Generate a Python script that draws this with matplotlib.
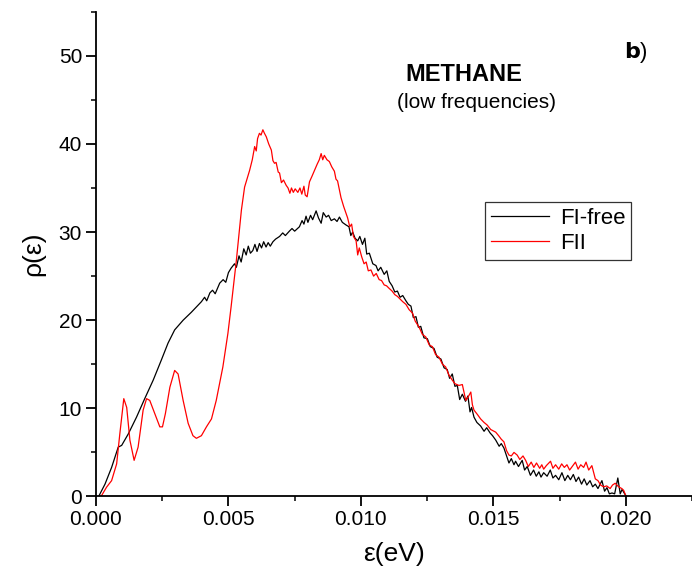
import matplotlib
matplotlib.use("Agg")
import matplotlib.pyplot as plt

plt.rcParams['font.family'] = ['Liberation Sans', 'DejaVu Sans']

# FI-free (black)
free_e = [0.0001, 0.00034, 0.00059, 0.00084, 0.00097, 0.00122, 0.00153, 0.00184, 0.00216,
          0.00247, 0.00272, 0.00297, 0.00329, 0.0036, 0.00398, 0.0041, 0.00418, 0.0043, 0.0044,
          0.0045, 0.00467, 0.0048, 0.0049, 0.005, 0.0051, 0.00523, 0.0053, 0.0054, 0.00548,
          0.00558, 0.00567, 0.00575, 0.00583, 0.00592, 0.006, 0.00608, 0.00617, 0.00625, 0.00633,
          0.00642, 0.0065, 0.00658, 0.00668, 0.00678, 0.00693, 0.00705, 0.00715, 0.0073, 0.0074,
          0.0075, 0.00768, 0.00778, 0.00785, 0.00793, 0.008, 0.0081, 0.00818, 0.00831, 0.0084,
          0.0085, 0.00858, 0.00869, 0.00878, 0.00888, 0.009, 0.0091, 0.00919, 0.0093, 0.00944,
          0.00955, 0.00962, 0.00969, 0.00978, 0.00988, 0.00996, 0.01006, 0.01015, 0.01022,
          0.01032, 0.01045, 0.01057, 0.01065, 0.01075, 0.01088, 0.01098, 0.01107, 0.01118,
          0.01128, 0.01138, 0.01148, 0.01158, 0.0117, 0.01179, 0.01189, 0.01198, 0.01208,
          0.01217, 0.01226, 0.01238, 0.01251, 0.01262, 0.01276, 0.01288, 0.01302, 0.01314,
          0.01326, 0.01335, 0.01345, 0.01355, 0.01364, 0.01373, 0.01383, 0.01395, 0.01404,
          0.01412, 0.01418, 0.01427, 0.01438, 0.01452, 0.01465, 0.01475, 0.01488, 0.01497,
          0.01509, 0.01522, 0.0153, 0.0154, 0.01548, 0.01559, 0.01568, 0.01578, 0.01584,
          0.01595, 0.01609, 0.01618, 0.01628, 0.0164, 0.01652, 0.01662, 0.01672, 0.0168,
          0.0169, 0.01703, 0.01715, 0.01725, 0.01735, 0.01747, 0.01759, 0.0177, 0.01781,
          0.01791, 0.01802, 0.01812, 0.01822, 0.01833, 0.01843, 0.01853, 0.01865, 0.01875,
          0.01885, 0.01895, 0.0191, 0.0192, 0.01929, 0.01938, 0.01948, 0.01958, 0.0197,
          0.01979, 0.01986, 0.01992, 0.02]
free_rho = [0.0, 1.4, 3.3, 5.6, 5.8, 7.1, 9.0, 11.1, 13.2,
            15.5, 17.4, 18.9, 20.0, 20.9, 22.1, 22.6, 22.2, 23.1, 23.4,
            23.0, 24.2, 24.6, 24.3, 25.4, 25.9, 26.4, 26.0, 27.3, 26.6,
            28.1, 27.4, 28.4, 27.6, 27.9, 28.6, 27.8, 28.7, 28.2, 28.9,
            28.3, 28.8, 28.4, 28.9, 29.2, 29.5, 29.9, 29.6, 30.1, 30.4,
            30.1, 30.6, 31.3, 30.9, 31.8, 31.1, 31.9, 31.4, 32.4, 31.6,
            31.0, 32.2, 31.7, 31.9, 31.3, 31.5, 31.2, 31.7, 31.1, 30.8,
            30.6, 29.6, 30.0, 29.3, 29.0, 29.5, 28.6, 29.3, 27.5,
            27.6, 26.4, 26.2, 25.6, 26.0, 25.2, 25.6, 24.4, 23.9,
            23.2, 23.3, 22.6, 22.8, 22.2, 21.8, 21.6, 20.3, 20.4,
            19.2, 19.3, 18.0, 17.9, 17.0, 16.8, 15.8, 15.6, 14.6,
            14.4, 13.4, 13.9, 12.5, 12.6, 11.0, 11.6, 10.8, 11.4,
            9.6, 10.1, 9.0, 8.4, 8.0, 7.4, 7.8, 7.2, 6.9,
            6.4, 5.7, 6.0, 5.5, 4.8, 3.8, 4.3, 3.6, 4.0,
            3.4, 4.1, 3.0, 3.4, 2.4, 3.0, 2.3, 2.8, 2.2,
            2.7, 2.3, 3.0, 2.1, 2.4, 1.9, 2.7, 1.8, 2.4,
            1.9, 2.5, 1.7, 2.2, 1.4, 2.0, 1.3, 1.8, 1.1,
            1.4, 0.9, 1.8, 0.6, 1.0, 0.3, 0.4, 0.3, 2.1,
            0.3, 0.8, 0.5, 0.1]

# FII (red)
fii_e = [0.0001, 0.00021, 0.0004, 0.00059, 0.00078, 0.0009, 0.00105, 0.00116, 0.00128,
         0.00144, 0.00159, 0.00178, 0.00191, 0.00203, 0.00222, 0.00241, 0.00251, 0.00262,
         0.00279, 0.00297, 0.0031, 0.00329, 0.00348, 0.00366, 0.00379, 0.00398, 0.00417,
         0.00436, 0.00454, 0.00479, 0.00498, 0.0051, 0.0053, 0.00549, 0.00561, 0.0058, 0.0059,
         0.00599, 0.00605, 0.0061, 0.00617, 0.00623, 0.0063, 0.00636, 0.00643, 0.00652,
         0.00662, 0.00668, 0.00674, 0.0068, 0.00688, 0.00693, 0.007, 0.00708, 0.00718,
         0.00725, 0.00732, 0.00738, 0.00745, 0.00752, 0.00762, 0.0077, 0.00777, 0.00785,
         0.0079, 0.00797, 0.00806, 0.00815, 0.00825, 0.00835, 0.00843, 0.0085, 0.00856,
         0.00862, 0.00872, 0.00881, 0.0089, 0.009, 0.00906, 0.00912, 0.00918, 0.00925,
         0.00935, 0.00944, 0.0095, 0.00958, 0.00965, 0.00972, 0.00982, 0.00988, 0.00994,
         0.01003, 0.01012, 0.0102, 0.01028, 0.01038, 0.01048, 0.01058, 0.01069, 0.01078,
         0.01088, 0.01097, 0.01107, 0.01118, 0.01128, 0.01138, 0.01148, 0.01158, 0.0117,
         0.01182, 0.01195, 0.01205, 0.0122, 0.01232, 0.01245, 0.01258, 0.0127, 0.01282,
         0.01295, 0.01308, 0.0132, 0.01332, 0.01345, 0.01355, 0.0137, 0.01383, 0.01396,
         0.01405, 0.01415, 0.01421, 0.01427, 0.0144, 0.01452, 0.01465, 0.01477, 0.0149,
         0.01509, 0.0152, 0.0153, 0.0154, 0.0155, 0.01559, 0.01568, 0.01578, 0.0159,
         0.016, 0.01612, 0.01622, 0.01632, 0.01643, 0.01653, 0.01663, 0.01675, 0.01683,
         0.0169, 0.017, 0.01716, 0.01725, 0.01735, 0.01747, 0.01758, 0.01768, 0.01778,
         0.01788, 0.01798, 0.0181, 0.0182, 0.0183, 0.01841, 0.0185, 0.0186, 0.01872,
         0.01885, 0.01895, 0.01905, 0.01916, 0.01928, 0.01941, 0.0195, 0.0196, 0.01973,
         0.01985, 0.01992, 0.02]
fii_rho = [0.0, 0.1, 1.06, 1.8, 3.7, 7.1, 11.1, 10.1, 6.4,
           4.1, 5.6, 9.8, 11.1, 10.9, 9.4, 7.9, 7.9, 9.4,
           12.4, 14.3, 13.9, 10.9, 8.3, 6.9, 6.6, 6.9, 7.9,
           8.8, 10.9, 14.7, 18.5, 21.5, 26.8, 32.5, 35.1, 37.0, 38.2,
           39.7, 39.2, 40.6, 41.2, 41.0, 41.6, 41.2, 40.8, 40.0,
           39.3, 38.1, 37.8, 37.9, 36.8, 36.7, 35.6, 35.9, 35.3,
           35.0, 34.4, 35.0, 34.5, 34.9, 34.5, 35.0, 34.3, 35.2,
           34.2, 34.0, 35.7, 36.3, 37.0, 37.7, 38.2, 38.9, 38.2,
           38.7, 38.2, 38.0, 37.4, 36.9, 36.0, 35.8, 34.9, 33.9,
           32.9, 32.1, 31.6, 30.6, 30.9, 29.5, 29.0, 27.4, 28.2,
           27.2, 26.4, 26.6, 25.6, 25.7, 25.0, 25.3, 24.6, 24.5,
           24.0, 23.9, 23.6, 23.3, 22.9, 22.7, 22.4, 22.1, 21.8,
           21.2, 20.8, 19.9, 19.2, 18.4, 18.1, 17.2, 17.0, 16.1,
           15.8, 15.0, 14.7, 13.8, 13.2, 12.8, 12.6, 12.7, 10.9,
           11.3, 11.85, 10.4, 9.8, 9.3, 8.8, 8.4, 8.1, 7.6,
           7.3, 6.9, 6.5, 6.2, 5.2, 4.7, 4.6, 5.0, 4.7,
           4.2, 4.6, 4.1, 3.4, 3.9, 3.3, 3.8, 3.2, 3.6,
           3.1, 3.5, 4.0, 3.2, 3.6, 3.1, 3.7, 3.3, 3.6,
           3.0, 3.4, 3.9, 3.1, 3.6, 3.3, 3.9, 3.0, 3.5,
           2.0, 1.8, 1.3, 1.1, 1.2, 0.9, 1.3, 1.5, 1.1,
           0.9, 0.7, 0.1]

x_ticks = [0.000, 0.005, 0.010, 0.015, 0.020]
y_ticks = [0, 10, 20, 30, 40, 50]

fig = plt.figure(figsize=(6.92, 5.72), dpi=100)
ax = fig.add_axes([0.1387, 0.132, 0.8613, 0.8476])

ax.plot(free_e, free_rho, color='black', lw=0.9, label='FI-free')
ax.plot(fii_e, fii_rho, color='red', lw=0.9, label='FII')

ax.set_xlim(0, 0.02245)
ax.set_ylim(0, 55)
ax.set_xticks(x_ticks)
ax.set_xticklabels(['%.3f' % v for v in x_ticks])
ax.set_yticks(y_ticks)
ax.set_xticks([0.0025, 0.0075, 0.0125, 0.0175, 0.0225], minor=True)
ax.set_yticks([5, 15, 25, 35, 45, 55], minor=True)

for s in ['top', 'right']:
    ax.spines[s].set_visible(False)
for s in ['left', 'bottom']:
    ax.spines[s].set_linewidth(1.3)
ax.tick_params(which='major', direction='out', length=7, width=1.3, labelsize=15, pad=3)
ax.tick_params(which='minor', direction='out', length=3.5, width=1.1)

ax.set_xlabel('ε(eV)', fontsize=19, labelpad=9)
ax.set_ylabel('ρ(ε)', fontsize=19, labelpad=10)

ax.text(0.01389, 47.9, 'METHANE', fontsize=17, fontweight='bold', ha='center', va='center')
ax.text(0.01438, 44.7, '(low frequencies)', fontsize=15, ha='center', va='center')
ax.text(0.02037, 50.4, r'$\mathbf{b}$)', fontsize=16, ha='center', va='center')

leg = ax.legend(loc='upper left', bbox_to_anchor=(0.653, 0.607), borderaxespad=0,
                fontsize=16, frameon=True, fancybox=False, edgecolor='black',
                handlelength=2.6, handletextpad=0.5, labelspacing=0.2, borderpad=0.25)
leg.get_frame().set_linewidth(0.9)

fig.savefig('out.png', dpi=100)
